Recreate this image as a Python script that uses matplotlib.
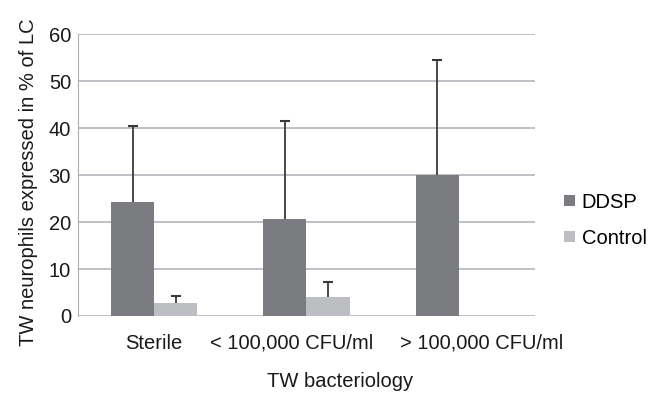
import numpy as np
import matplotlib.pyplot as plt
import matplotlib.transforms as mtransforms

plt.rcParams['font.family'] = ['Liberation Sans', 'DejaVu Sans']

categories = ['Sterile', '< 100,000 CFU/ml', '> 100,000 CFU/ml']
ddsp = [24.3, 20.6, 30.0]
ddsp_err = [16.1, 20.9, 24.6]
control = [2.8, 4.0]
control_err = [1.5, 3.3]

dark = '#7b7c80'
light = '#bdbec1'
fs = 14.5
# labels are nudged sideways so the long ones don't collide
label_shift = [0.0, -0.098, 0.149]

fig = plt.figure(figsize=(6.5, 3.93), dpi=100)
ax = fig.add_axes([0.12, 0.196, 0.703, 0.717])

x = np.arange(len(categories))
w = 0.283
ax.bar(x - w / 2, ddsp, w, color=dark, label='DDSP', zorder=2)
ax.bar(x[:2] + w / 2, control, w, color=light, label='Control', zorder=2)

# upper-only error bars, hide the lower caps
for xs, ys, es in [(x - w / 2, ddsp, ddsp_err), (x[:2] + w / 2, control, control_err)]:
    eb = ax.errorbar(xs, ys, yerr=[np.zeros(len(ys)), es], fmt='none',
                     ecolor='#3a3a3a', elinewidth=1.3, capsize=3.5, capthick=1.5, zorder=3)
    eb[1][0].set_visible(False)

ax.set_xlim(-0.5, 2.5)
ax.set_ylim(0, 60)
ax.set_yticks(range(0, 61, 10))
ax.set_xticks([])
trans = mtransforms.blended_transform_factory(ax.transData, ax.transAxes)
for i, (lab, dx) in enumerate(zip(categories, label_shift)):
    ax.text(i + dx, -0.096, lab, transform=trans, ha='center', va='center',
            fontsize=fs, color='#1a1a1a')

ax.yaxis.grid(True, color='#aeaeb6', linewidth=1.1, zorder=0)
ax.set_axisbelow(True)
for s in ['top', 'right', 'bottom']:
    ax.spines[s].set_visible(False)
ax.spines['left'].set_color('#aeaeb6')
ax.tick_params(axis='y', length=0, labelsize=fs, colors='#1a1a1a', pad=5)

ax.set_ylabel('TW neurophils expressed in % of LC', fontsize=fs, color='#1a1a1a')
ax.yaxis.set_label_coords(-0.088, 0.475)
fig.text(0.523, 0.028, 'TW bacteriology', fontsize=fs, color='#1a1a1a',
         ha='center', va='center')

ax.legend(loc='center left', bbox_to_anchor=(1.025, 0.34), frameon=False,
          fontsize=fs, handlelength=0.5, handleheight=0.5, handletextpad=0.35,
          labelspacing=0.85)

fig.savefig('out.png', dpi=100)
